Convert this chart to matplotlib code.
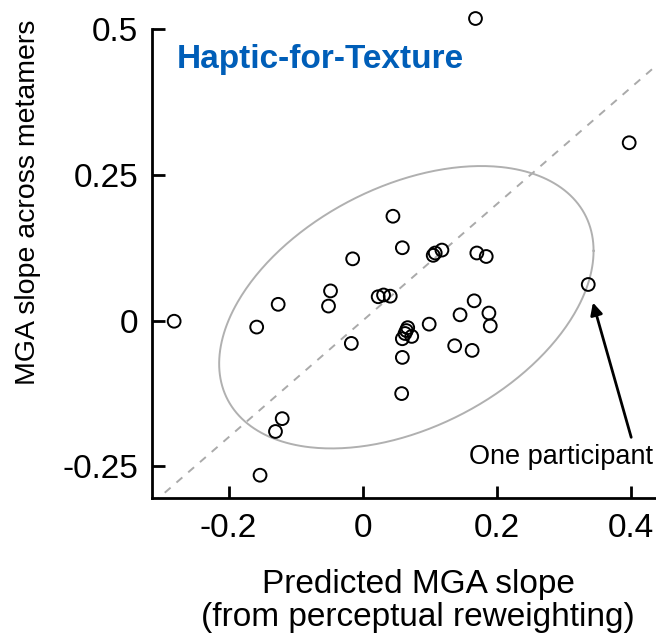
import numpy as np
import matplotlib
matplotlib.use("Agg")
from matplotlib import pyplot as plt

plt.rcParams["font.family"] = ["Liberation Sans", "DejaVu Sans"]

# participant values
predicted_slope = [
    0.045, 0.059, -0.015, 0.105, 0.108, 0.118, 0.170, 0.184, 0.336,
    -0.048, -0.126, -0.051, 0.023, 0.031, 0.041, -0.281, -0.158, -0.017,
    0.067, 0.065, 0.063, 0.059, 0.073, 0.099, 0.145, 0.166, 0.188, 0.190,
    0.137, 0.163, 0.059, 0.058, -0.120, -0.130, -0.153, 0.168, 0.397,
]
metamer_slope = [
    0.179, 0.125, 0.106, 0.112, 0.116, 0.121, 0.116, 0.110, 0.062,
    0.051, 0.028, 0.025, 0.041, 0.044, 0.042, -0.001, -0.011, -0.039,
    -0.012, -0.017, -0.022, -0.031, -0.027, -0.006, 0.010, 0.034, 0.013, -0.009,
    -0.043, -0.051, -0.063, -0.125, -0.168, -0.190, -0.265, 0.518, 0.305,
]

# covariance ellipse (centre + shape matrix)
ellipse_center = (0.065, 0.023)
ellipse_cov = [[0.0778, 0.0270], [0.0270, 0.0586]]

# arrow pointing at one participant
arrow_tip = (0.343, 0.031)
arrow_tail = (0.400, -0.200)
highlight_label = "One participant"
x_ticks = [-0.2, 0, 0.2, 0.4]
x_ticklabels = ["-0.2", "0", "0.2", "0.4"]
y_ticks = [-0.25, 0, 0.25, 0.5]
y_ticklabels = ["-0.25", "0", "0.25", "0.5"]

fig = plt.figure(figsize=(6.56, 6.39), dpi=100)
ax = fig.add_axes([0.2317, 0.2207, 0.7663, 0.7339])
xlim = (-0.314, 0.435)
ylim = (-0.304, 0.5)
ax.set_xlim(*xlim)
ax.set_ylim(*ylim)

# identity line
ax.plot([-0.4, 0.5], [-0.4, 0.5], color="#aaaaaa", lw=1.4, ls=(0, (4, 4)), zorder=1)

# ellipse
t = np.linspace(0, 2 * np.pi, 400)
L = np.linalg.cholesky(np.array(ellipse_cov))
ring = L @ np.vstack([np.cos(t), np.sin(t)])
ax.plot(ellipse_center[0] + ring[0], ellipse_center[1] + ring[1],
        color="#b0b0b0", lw=1.4, zorder=1)

ax.scatter(predicted_slope, metamer_slope, s=85, facecolors="none",
           edgecolors="black", linewidths=1.4, zorder=3, clip_on=False)

ax.annotate("", xy=arrow_tip, xytext=arrow_tail,
            arrowprops=dict(arrowstyle="-|>", color="black", lw=2,
                            shrinkA=0, shrinkB=0, mutation_scale=18))
ax.text(0.295, -0.234, highlight_label, ha="center", va="center", fontsize=19.5)

ax.text(-0.277, 0.447, "Haptic-for-Texture", color="#005eb8", fontsize=24,
        fontweight="bold", ha="left", va="center")

ax.set_xticks(x_ticks)
ax.set_xticklabels(x_ticklabels)
ax.set_yticks(y_ticks)
ax.set_yticklabels(y_ticklabels)
ax.tick_params(direction="in", length=9, width=2, labelsize=24)
ax.tick_params(axis="x", pad=11)
ax.tick_params(axis="y", pad=10)

for side in ["top", "right"]:
    ax.spines[side].set_visible(False)
for side in ["left", "bottom"]:
    ax.spines[side].set_linewidth(2)
ax.spines["left"].set_bounds(ylim[0], 0.5)

fig.text(418 / 656, 1 - 601 / 639,
         "Predicted MGA slope\n(from perceptual reweighting)",
         fontsize=24, ha="center", va="center", linespacing=1.05)
fig.text(28 / 656, 1 - 202 / 639, "MGA slope across metamers",
         fontsize=20.5, rotation=90, ha="center", va="center")

fig.savefig("out.png", dpi=100)
